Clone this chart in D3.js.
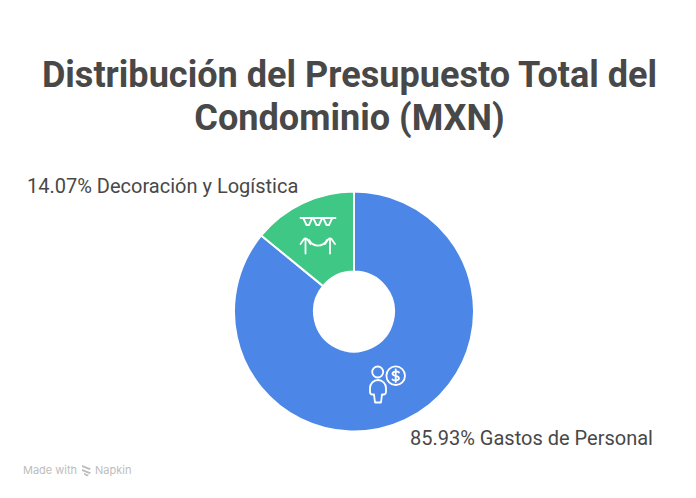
<!DOCTYPE html>
<html>
<head>
<meta charset="utf-8">
<script src="https://d3js.org/d3.v7.min.js"></script>
<style>
  html, body { margin: 0; padding: 0; background: #fff; }
  svg { display: block; font-family: Roboto, sans-serif; }
</style>
</head>
<body>
<svg id="chart" width="696" height="498"></svg>
<script>
// values
var categories = ["Gastos de Personal", "Decoración y Logística"];
var shares = [85.93, 14.07];
var sliceColors = ["#4c87e8", "#3ec785"];
var titleLines = ["Distribución del Presupuesto Total del", "Condominio (MXN)"];

var svg = d3.select("#chart");
var cx = 354, cy = 311.5;

titleLines.forEach(function (t, i) {
  svg.append("text")
    .attr("x", 349.5)
    .attr("y", 87 + i * 42.5)
    .attr("text-anchor", "middle")
    .attr("font-size", 36.1)
    .attr("font-weight", 700)
    .attr("fill", "#484848")
    .text(t);
});

var pie = d3.pie().sort(null).value(function (d) { return d; });
var arc = d3.arc().innerRadius(40).outerRadius(120);

svg.append("g")
  .attr("transform", "translate(" + cx + "," + cy + ")")
  .selectAll("path")
  .data(pie(shares))
  .enter()
  .append("path")
  .attr("d", arc)
  .attr("fill", function (d, i) { return sliceColors[i]; })
  .attr("stroke", "#fff")
  .attr("stroke-width", 2);

// slice labels
svg.append("text")
  .attr("x", 410).attr("y", 445)
  .attr("font-size", 20).attr("fill", "#484848")
  .text(shares[0] + "% " + categories[0]);
svg.append("text")
  .attr("x", 27).attr("y", 193)
  .attr("font-size", 20).attr("fill", "#484848")
  .text(shares[1] + "% " + categories[1]);

// person + coin icon
var person = svg.append("g")
  .attr("fill", "none").attr("stroke", "#fff").attr("stroke-width", 1.8)
  .attr("stroke-linejoin", "round").attr("stroke-linecap", "round");
person.append("circle").attr("cx", 377.7).attr("cy", 372).attr("r", 5.5);
person.append("path").attr("d", "M370 392v-4a8 8 0 0 1 16 0v4a2.5 2.5 0 0 1-2.5 2.5h-1.5l-1 8h-6l-1-8h-1.5a2.5 2.5 0 0 1-2.5-2.5z");
person.append("circle").attr("cx", 395.7).attr("cy", 375.7).attr("r", 9.3);
person.append("path").attr("d", "M399 372.5c-1-1.500-6.500-1.500-6.500 1.200s6.500 1.800 6.500 4.500-5.500 2.700-6.500 1.200M395.700 369.500v12.500");

// bunting + rope icon
var deco = svg.append("g")
  .attr("fill", "none").attr("stroke", "#fff").attr("stroke-width", 1.8)
  .attr("stroke-linejoin", "round").attr("stroke-linecap", "round");
deco.append("path").attr("d", "M300.500 218h35");
deco.append("path").attr("d", "M303.500 218.500l3 6.500h2.500l3-6.500M313.500 218.500l3 6.500h2.500l3-6.500M323.500 218.500l3 6.500h2.500l3-6.500");
deco.append("path").attr("d", "M305.500 240v13.500M330 240v13.500M300.500 244l3.500-5a2 2 0 0 1 3 0l3.500 5M325 244l3.500-5a2 2 0 0 1 3 0l3.500 5M309 240c4 7.500 14 7.500 18 0");

// footer
var foot = svg.append("g").attr("fill", "#bdbdbd");
foot.append("text")
  .attr("x", 23).attr("y", 474)
  .attr("font-size", 11).attr("font-family", "Inter, sans-serif")
  .text("Made with");
foot.append("path")
  .attr("d", "M82 465l9 3.500-1.500 1.500-7.500-3zM82 469l9 3.500-1.500 1.500-7.500-3zM84 473l5 2-2 1.500-3-2z");
foot.append("text")
  .attr("x", 95).attr("y", 474)
  .attr("font-size", 11).attr("font-family", "Inter, sans-serif")
  .text("Napkin");
</script>
</body>
</html>
